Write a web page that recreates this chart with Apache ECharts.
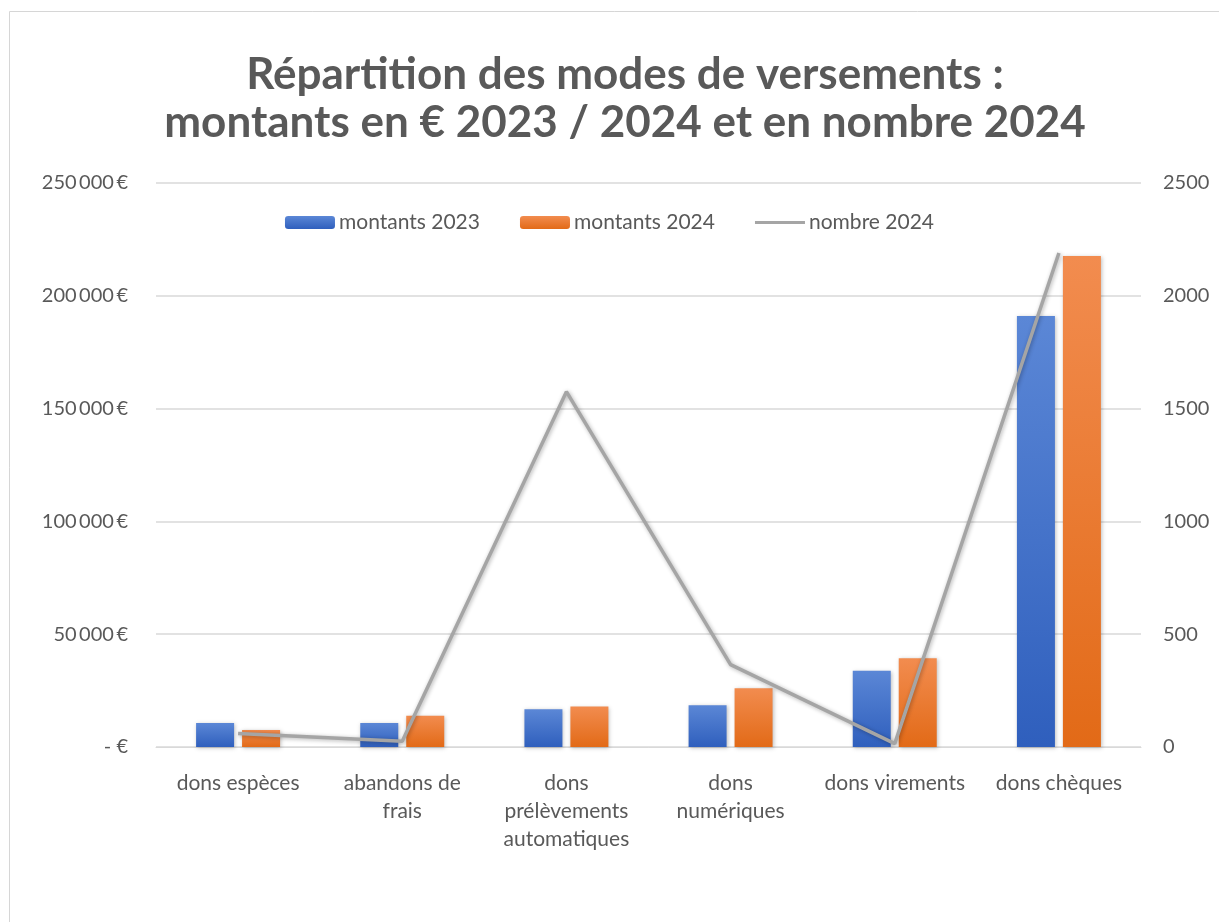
<!DOCTYPE html>
<html>
<head>
<meta charset="utf-8">
<title>Répartition des modes de versements</title>
<script src="https://cdn.jsdelivr.net/npm/echarts@6/dist/echarts.min.js"></script>
<style>
  html, body { margin: 0; padding: 0; background: #ffffff; }
  #chart { width: 1219px; height: 922px; }
</style>
</head>
<body>
<div id="chart"></div>
<script>
// Payment modes (categories)
const categories = [
  'dons espèces',
  'abandons de\nfrais',
  'dons\nprélèvements\nautomatiques',
  'dons\nnumériques',
  'dons virements',
  'dons chèques'
];
// Amounts in euros
const montants2023 = [10600, 10600, 16700, 18500, 33800, 191000];
const montants2024 = [7500, 13900, 17900, 26000, 39300, 217600];
// Number of donations in 2024
const nombre2024 = [60, 25, 1575, 365, 15, 2190];

const seriesNames = ['montants 2023', 'montants 2024', 'nombre 2024'];
const titleLines = ['Répartition des modes de versements :', 'montants en € 2023 / 2024 et en nombre 2024'];

const FONT = 'Lato, "Open Sans", sans-serif';
const GREY = '#595959';

function euro(v) {
  if (v === 0) return '- €';
  return String(v).replace(/\B(?=(\d{3})+(?!\d))/g, '\u2009') + '\u2009€';
}

function grad(top, bottom) {
  return new echarts.graphic.LinearGradient(0, 0, 0, 1, [
    { offset: 0, color: top },
    { offset: 1, color: bottom }
  ]);
}

const chart = echarts.init(document.getElementById('chart'), null, { renderer: 'canvas' });

chart.setOption({
  backgroundColor: '#ffffff',
  animation: false,
  textStyle: { fontFamily: FONT },
  graphic: [{
    type: 'rect',
    shape: { x: 9.5, y: 11.5, width: 1240, height: 940 },
    style: { fill: 'none', stroke: '#d6d6d6', lineWidth: 1 },
    silent: true
  }],
  title: {
    text: titleLines.join('\n'),
    left: 620,
    top: 46,
    textAlign: 'center',
    textStyle: {
      fontFamily: FONT,
      fontSize: 44,
      fontWeight: 'bold',
      color: GREY,
      lineHeight: 48
    }
  },
  legend: {
    top: 207,
    left: 'center',
    data: [
      { name: seriesNames[0] },
      { name: seriesNames[1] },
      { name: seriesNames[2], icon: 'path://M0,0 L50,0 L50,3 L0,3 Z' }
    ],
    itemWidth: 50,
    itemHeight: 13,
    itemGap: 40,
    textStyle: { fontFamily: FONT, fontSize: 21, color: GREY, padding: [0, 0, 0, -1] }
  },
  grid: { left: 156, right: 78, top: 183, bottom: 175 },
  xAxis: {
    type: 'category',
    data: categories,
    axisLine: { show: true, lineStyle: { color: '#d9d9d9', width: 1 } },
    axisTick: { show: false },
    axisLabel: {
      color: GREY,
      fontFamily: FONT,
      fontSize: 21,
      lineHeight: 28,
      margin: 22,
      interval: 0
    }
  },
  yAxis: [{
    type: 'value',
    min: 0,
    max: 250000,
    interval: 50000,
    axisLine: { show: false },
    axisTick: { show: false },
    splitLine: { lineStyle: { color: '#d9d9d9', width: 1.5 } },
    axisLabel: {
      color: GREY,
      fontFamily: FONT,
      fontSize: 20,
      margin: 28,
      formatter: euro
    }
  }, {
    type: 'value',
    min: 0,
    max: 2500,
    interval: 500,
    axisLine: { show: false },
    axisTick: { show: false },
    splitLine: { show: false },
    axisLabel: {
      color: GREY,
      fontFamily: FONT,
      fontSize: 20,
      margin: 22,
      formatter: function (v) { return String(v); }
    }
  }],
  series: [{
    name: seriesNames[0],
    type: 'bar',
    data: montants2023,
    barWidth: 38,
    barGap: '21%',
    itemStyle: {
      color: grad('#5b87d6', '#2f5fbd'),
      shadowColor: 'rgba(0,0,0,0.25)',
      shadowBlur: 4,
      shadowOffsetX: 1,
      shadowOffsetY: 1
    }
  }, {
    name: seriesNames[1],
    type: 'bar',
    data: montants2024,
    barWidth: 38,
    barGap: '21%',
    itemStyle: {
      color: grad('#f28c4f', '#e26a17'),
      shadowColor: 'rgba(0,0,0,0.25)',
      shadowBlur: 4,
      shadowOffsetX: 1,
      shadowOffsetY: 1
    }
  }, {
    name: seriesNames[2],
    type: 'line',
    yAxisIndex: 1,
    data: nombre2024,
    symbol: 'none',
    z: 5,
    itemStyle: { color: '#a5a5a5' },
    lineStyle: {
      color: '#a5a5a5',
      width: 3.5,
      shadowColor: 'rgba(0,0,0,0.3)',
      shadowBlur: 4,
      shadowOffsetX: 1,
      shadowOffsetY: 1
    }
  }]
});
</script>
</body>
</html>
